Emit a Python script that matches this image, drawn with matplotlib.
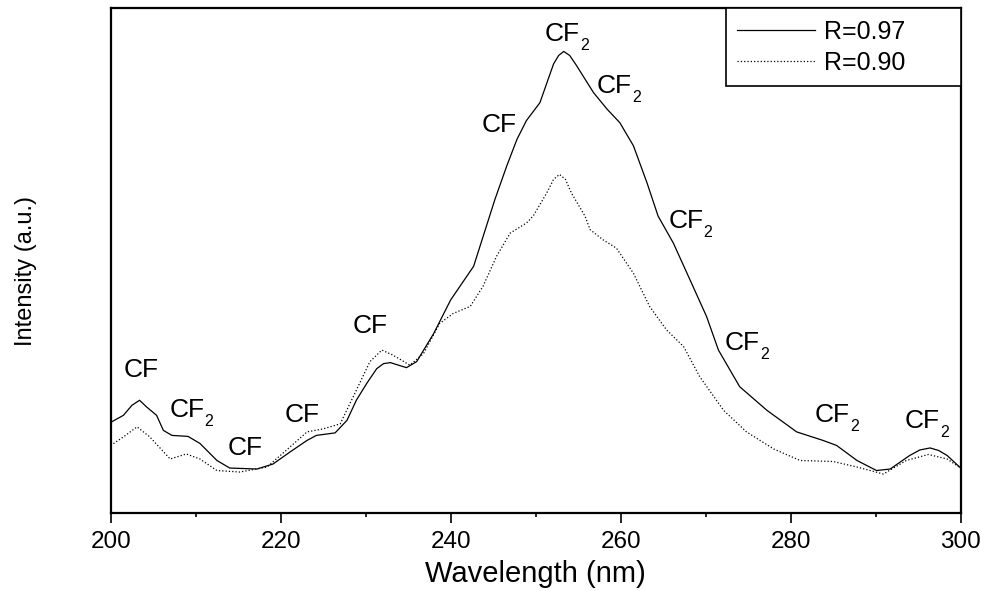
import numpy as np
import matplotlib.pyplot as plt

plt.rcParams['font.family'] = ['Liberation Sans', 'DejaVu Sans']

# R=0.97 (solid)
wl_a = [200.0, 201.5, 202.5, 203.4, 204.2, 205.4, 206.2, 207.2, 209.1, 210.5,
        212.5, 214.0, 217.2, 219.1, 221.1, 223.1, 224.2, 226.4, 227.8, 228.9,
        230.1, 231.3, 232.1, 232.9, 234.8, 236.0, 238.0, 240.0, 242.7, 245.2,
        246.6, 247.8, 248.9, 250.5, 252.1, 252.7, 253.3, 254.0, 254.8, 256.8,
        258.4, 259.9, 261.5, 263.1, 264.4, 266.2, 268.5, 270.1, 271.5, 274.0,
        277.2, 280.7, 283.8, 285.4, 287.8, 290.1, 291.7, 294.0, 295.2, 296.4,
        297.4, 298.4, 300.0]
int_a = [180, 194, 214, 224, 211, 194, 164, 154, 152, 138,
         104, 89, 87, 97, 121, 144, 154, 159, 184, 224,
         257, 287, 297, 299, 289, 301, 357, 424, 491, 624,
         691, 744, 781, 817, 894, 911, 919, 911, 891, 837,
         804, 777, 731, 657, 591, 537, 451, 391, 324, 251,
         204, 161, 144, 134, 104, 84, 87, 114, 125, 129,
         124, 114, 89]

# R=0.90 (dotted)
wl_b = [200.0, 201.5, 203.1, 204.6, 207.0, 208.9, 210.5, 212.5, 215.2, 218.4,
        221.1, 223.1, 225.0, 227.0, 228.9, 230.5, 231.9, 233.2, 235.2, 236.8,
        238.7, 240.3, 242.3, 243.8, 245.4, 247.0, 248.9, 249.7, 251.3, 252.1,
        252.8, 253.5, 254.2, 255.8, 256.4, 257.9, 259.5, 261.5, 263.4, 265.4,
        267.4, 269.3, 272.1, 274.8, 278.0, 281.1, 285.0, 287.8, 290.9, 293.6,
        296.2, 298.4, 300.0]
int_b = [134, 151, 171, 151, 107, 117, 107, 84, 81, 91,
         131, 161, 167, 177, 244, 301, 324, 314, 294, 317,
         377, 397, 411, 451, 511, 557, 577, 591, 637, 664,
         674, 664, 637, 591, 564, 544, 527, 477, 411, 364,
         331, 271, 204, 161, 127, 104, 102, 91, 77, 104,
         116, 107, 89]

# peak labels: species, subscript, wavelength of left edge, intensity of baseline
lab_text = ['CF', 'CF', 'CF', 'CF', 'CF', 'CF', 'CF', 'CF', 'CF', 'CF', 'CF', 'CF']
lab_sub = ['', '2', '', '', '', '', '2', '2', '2', '2', '2', '2']
lab_x = [201.5, 206.9, 213.8, 220.5, 228.5, 243.6, 251.1, 257.2,
         265.6, 272.2, 282.8, 293.4]
lab_y = [270, 190, 114, 180, 358, 758, 939, 837, 568, 324, 180, 168]

fig = plt.figure(figsize=(9.9, 5.91), dpi=100)
ax = fig.add_axes([0.1118, 0.1325, 0.8586, 0.8535])

ax.plot(wl_a, int_a, '-', color='black', lw=0.9, label='R=0.97')
ax.plot(wl_b, int_b, ':', color='black', lw=0.9, label='R=0.90')

for t, s, x, y in zip(lab_text, lab_sub, lab_x, lab_y):
    ax.text(x, y, t, fontsize=19, ha='left', va='baseline')
    if s:
        ax.annotate(s, xy=(x, y), xytext=(25.5, -6.5), textcoords='offset points',
                    fontsize=11.5, ha='left', va='baseline')

ax.set_xlim(200, 300)
ax.set_ylim(0, 1005)
ax.set_xticks([200, 220, 240, 260, 280, 300])
ax.set_xticks(np.arange(210, 300, 20), minor=True)
ax.set_yticks([])
ax.tick_params(axis='x', which='major', length=7.2, width=1.2, labelsize=17.5, pad=6)
ax.tick_params(axis='x', which='minor', length=3.2, width=1.2)
for sp in ax.spines.values():
    sp.set_linewidth(1.6)

ax.set_xlabel('Wavelength (nm)', fontsize=21, labelpad=5)
fig.text(0.026, 0.542, 'Intensity (a.u.)', rotation=90, fontsize=17,
         ha='center', va='center')

leg = ax.legend(loc='upper right', bbox_to_anchor=(0.724, 0, 0.276, 1),
                mode='expand', borderaxespad=0, fontsize=18, handlelength=3.1,
                handletextpad=0.35, labelspacing=0.3, borderpad=0.45,
                fancybox=False, framealpha=1, edgecolor='black')
leg.get_frame().set_linewidth(1.2)

fig.savefig('out.png', dpi=100)
